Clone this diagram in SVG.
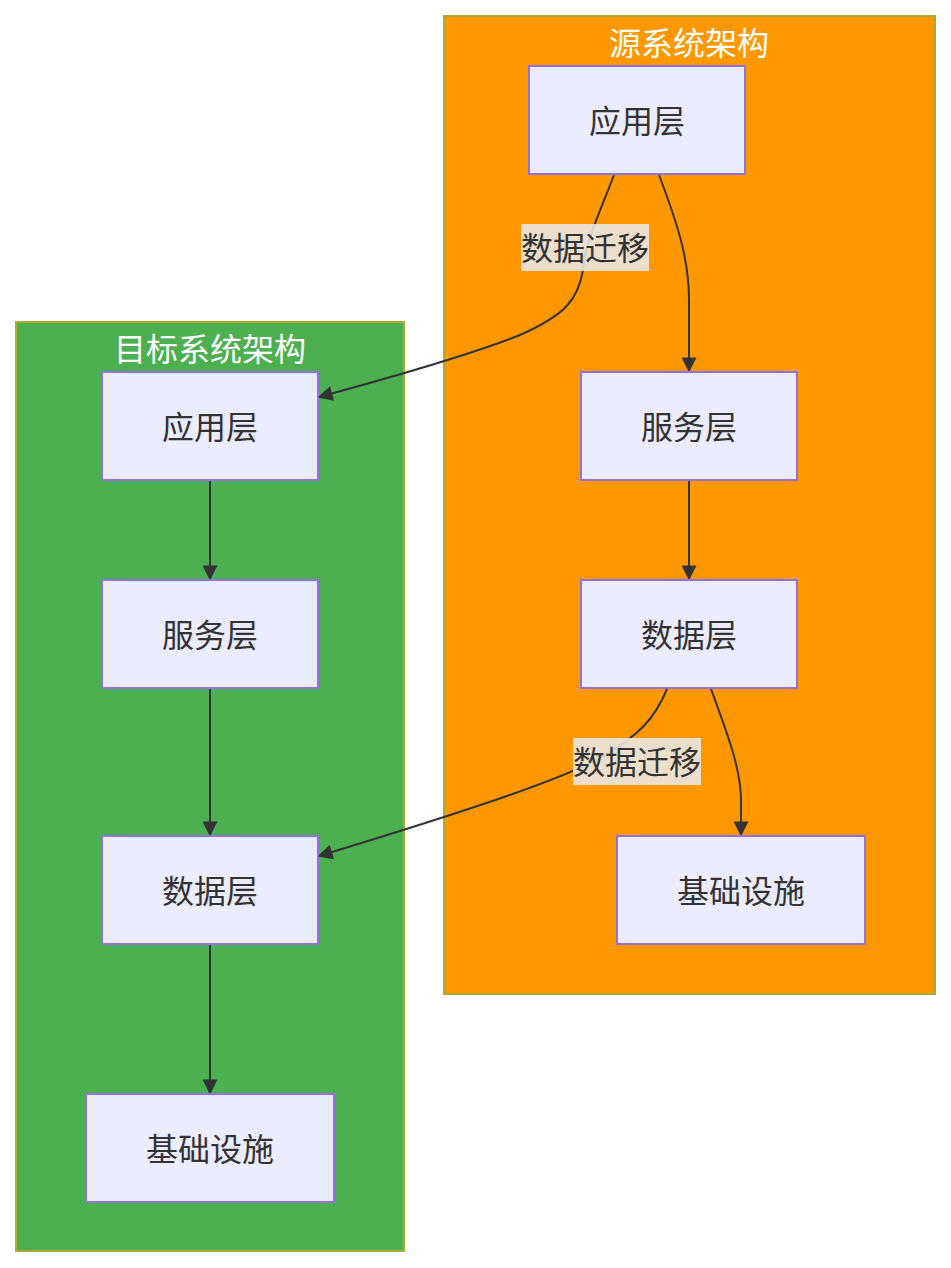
<svg xmlns="http://www.w3.org/2000/svg" width="951" height="1268" viewBox="0 0 951 1268">
<defs>
<style>
.cluster{stroke:#aaaa33;stroke-width:2}
.node rect{fill:#ECECFF;stroke:#9370DB;stroke-width:2}
.node text{font-family:"Noto Sans CJK SC","Liberation Sans",sans-serif;font-size:32px;fill:#333;text-anchor:middle;dominant-baseline:central}
.title{font-family:"Noto Sans CJK SC","Liberation Sans",sans-serif;font-size:32px;fill:#fff;text-anchor:middle;dominant-baseline:central}
.edge{fill:none;stroke:#333;stroke-width:2;marker-end:url(#arrow)}
.lbl rect{fill:#e8e8e8;opacity:0.88}
.lbl text{font-family:"Noto Sans CJK SC","Liberation Sans",sans-serif;font-size:32px;fill:#333;text-anchor:middle;dominant-baseline:central}
</style>
<marker id="arrow" viewBox="0 0 10 10" refX="9" refY="5" markerWidth="16" markerHeight="15" markerUnits="userSpaceOnUse" orient="auto">
<path d="M0,0 L10,5 L0,10 z" fill="#333"/>
</marker>
</defs>
<g id="cluster-src"><rect class="cluster" x="444" y="16" width="491" height="978" fill="#FF9800"/><text class="title" x="689" y="41">源系统架构</text></g>
<g id="cluster-tgt"><rect class="cluster" x="16" y="322" width="388" height="929" fill="#4CAF50"/><text class="title" x="210" y="347">目标系统架构</text></g>
<g id="edges">
<path class="edge" d="M659,175 C678,225 689,260 689,300 L689,371"/>
<path class="edge" d="M614,175 C600,212 586,240 583,270 C578,300 565,315 520,335 C470,355 400,375 319,397"/>
<path class="edge" d="M689,481 L689,579"/>
<path class="edge" d="M711,689 C728,735 741,770 741,800 L741,835"/>
<path class="edge" d="M667,689 C655,718 640,735 600,758 C560,780 470,810 319,856"/>
<path class="edge" d="M210,481 L210,579"/>
<path class="edge" d="M210,689 L210,835"/>
<path class="edge" d="M210,945 L210,1093"/>
<g class="lbl"><rect x="521" y="224" width="128" height="47"/><text x="585" y="246">数据迁移</text></g>
<g class="lbl"><rect x="573" y="738" width="128" height="47"/><text x="637" y="760">数据迁移</text></g>
</g>
<g id="s-app" class="node"><rect x="529" y="66" width="216" height="108"/><text x="637" y="119">应用层</text></g>
<g id="s-svc" class="node"><rect x="581" y="372" width="216" height="108"/><text x="689" y="425">服务层</text></g>
<g id="s-data" class="node"><rect x="581" y="580" width="216" height="108"/><text x="689" y="633">数据层</text></g>
<g id="s-infra" class="node"><rect x="617" y="836" width="248" height="108"/><text x="741" y="889">基础设施</text></g>
<g id="t-app" class="node"><rect x="102" y="372" width="216" height="108"/><text x="210" y="425">应用层</text></g>
<g id="t-svc" class="node"><rect x="102" y="580" width="216" height="108"/><text x="210" y="633">服务层</text></g>
<g id="t-data" class="node"><rect x="102" y="836" width="216" height="108"/><text x="210" y="889">数据层</text></g>
<g id="t-infra" class="node"><rect x="86" y="1094" width="248" height="108"/><text x="210" y="1147">基础设施</text></g>
</svg>
